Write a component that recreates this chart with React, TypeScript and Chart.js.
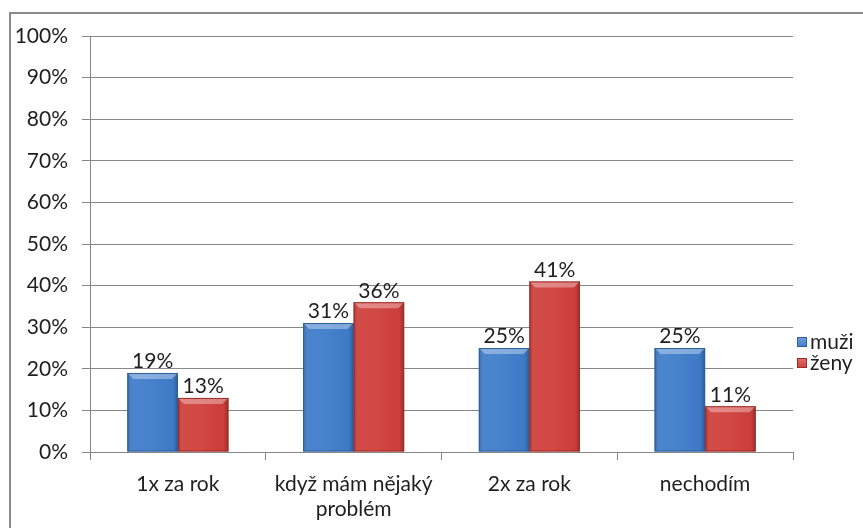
import React, { useEffect, useRef } from "react";
import { Chart, registerables } from "chart.js";

Chart.register(...registerables);

const categories: (string | string[])[] = ["1x za rok", ["když mám nějaký", "problém"], "2x za rok", "nechodím"];
const seriesNames = ["muži", "ženy"];
const muzi = [19, 31, 25, 25];
const zeny = [13, 36, 41, 11];
const yMax = 100;
const yStep = 10;

const FONT = "Lato, 'Open Sans', sans-serif";
const FONT_SIZE = 21;
const TEXT = "#1f1f1f";
const GRID = "#878787";
const BLUE = "#3f7dca";
const RED = "#d0403b";
const BLUE_EDGE = "#2d5f9f";
const RED_EDGE = "#9e2b27";

const decorPlugin = {
  id: "decor",
  beforeDraw(chart: any) {
    const ctx = chart.ctx;
    ctx.save();
    ctx.fillStyle = "#ffffff";
    ctx.fillRect(0, 0, chart.width, chart.height);
    ctx.strokeStyle = "#8a8a8a";
    ctx.lineWidth = 2;
    ctx.strokeRect(10, 13, chart.width + 20, chart.height + 40);
    ctx.restore();
  },
  afterDatasetsDraw(chart: any) {
    const ctx = chart.ctx;
    ctx.save();
    chart.data.datasets.forEach((ds: any, di: number) => {
      const meta = chart.getDatasetMeta(di);
      meta.data.forEach((bar: any, i: number) => {
        const { x, y, base, width } = bar.getProps(["x", "y", "base", "width"], true);
        const l = x - width / 2;
        const r = x + width / 2;
        const t = y;
        const b = base;
        const h = b - t;
        const bv = Math.min(6, h / 2);
        // horizontal shading
        const g = ctx.createLinearGradient(l, 0, r, 0);
        g.addColorStop(0, "rgba(0,0,0,0.22)");
        g.addColorStop(0.1, "rgba(255,255,255,0.06)");
        g.addColorStop(0.5, "rgba(255,255,255,0.04)");
        g.addColorStop(0.9, "rgba(0,0,0,0.02)");
        g.addColorStop(1, "rgba(0,0,0,0.25)");
        ctx.fillStyle = g;
        ctx.fillRect(l, t, width, h);
        // top bevel
        ctx.beginPath();
        ctx.moveTo(l, t);
        ctx.lineTo(r, t);
        ctx.lineTo(r - bv, t + bv);
        ctx.lineTo(l + bv, t + bv);
        ctx.closePath();
        ctx.fillStyle = "rgba(255,255,255,0.35)";
        ctx.fill();
        // outline
        ctx.strokeStyle = di === 0 ? BLUE_EDGE : RED_EDGE;
        ctx.lineWidth = 1;
        ctx.strokeRect(l + 0.5, t + 0.5, width - 1, h - 1);
        // value label
        const v = ds.data[i];
        ctx.fillStyle = TEXT;
        ctx.font = `${FONT_SIZE}px ${FONT}`;
        ctx.textAlign = "center";
        ctx.textBaseline = "bottom";
        ctx.fillText(`${v}%`, x, t - 1);
      });
    });
    ctx.restore();
  },
  afterDraw(chart: any) {
    const ctx = chart.ctx;
    ctx.save();
    const colors = [BLUE, RED];
    const ys = [342, 363];
    ctx.font = `${FONT_SIZE}px ${FONT}`;
    ctx.textBaseline = "middle";
    ctx.textAlign = "left";
    seriesNames.forEach((name, i) => {
      const sx = 797;
      const sy = ys[i] - 5;
      const g = ctx.createLinearGradient(0, sy, 0, sy + 10);
      g.addColorStop(0, i === 0 ? "#6fa1dd" : "#e2706c");
      g.addColorStop(1, colors[i]);
      ctx.fillStyle = g;
      ctx.fillRect(sx, sy, 10, 10);
      ctx.strokeStyle = i === 0 ? BLUE_EDGE : RED_EDGE;
      ctx.lineWidth = 1;
      ctx.strokeRect(sx + 0.5, sy + 0.5, 9, 9);
      ctx.fillStyle = TEXT;
      ctx.fillText(name, 810, ys[i]);
    });
    ctx.restore();
  },
};

export default function App() {
  const ref = useRef<HTMLCanvasElement | null>(null);
  useEffect(() => {
    if (!ref.current) return;
    const chart = new Chart(ref.current, {
      type: "bar",
      data: {
        labels: categories as any,
        datasets: [
          { label: seriesNames[0], data: muzi, backgroundColor: BLUE, borderWidth: 0 },
          { label: seriesNames[1], data: zeny, backgroundColor: RED, borderWidth: 0 },
        ],
      },
      options: {
        animation: false,
        responsive: true,
        maintainAspectRatio: false,
        layout: { padding: { left: 0, right: 70, top: 36, bottom: 0 } },
        plugins: { legend: { display: false }, tooltip: { enabled: false } },
        datasets: { bar: { categoryPercentage: 0.575, barPercentage: 1 } },
        scales: {
          x: {
            offset: true,
            grid: {
              offset: true,
              drawOnChartArea: false,
              drawTicks: true,
              tickLength: 8,
              color: GRID,
            },
            border: { display: true, color: GRID },
            ticks: {
              color: TEXT,
              font: { family: FONT, size: FONT_SIZE, lineHeight: 1.18 },
              padding: 12,
              maxRotation: 0,
              autoSkip: false,
            },
            afterFit(scale: any) {
              scale.height = 76;
            },
          },
          y: {
            min: 0,
            max: yMax,
            grid: { color: GRID, tickLength: 8, lineWidth: 1 },
            border: { display: true, color: GRID },
            ticks: {
              stepSize: yStep,
              color: TEXT,
              font: { family: FONT, size: FONT_SIZE },
              padding: 14,
              callback: (v: any) => `${v}%`,
            },
            afterFit(scale: any) {
              scale.width = 90;
            },
          },
        },
      },
      plugins: [decorPlugin],
    });
    return () => chart.destroy();
  }, []);
  return (
    <div style={{ position: "absolute", left: 0, top: 0, width: 863, height: 528 }}>
      <canvas ref={ref} />
    </div>
  );
}
